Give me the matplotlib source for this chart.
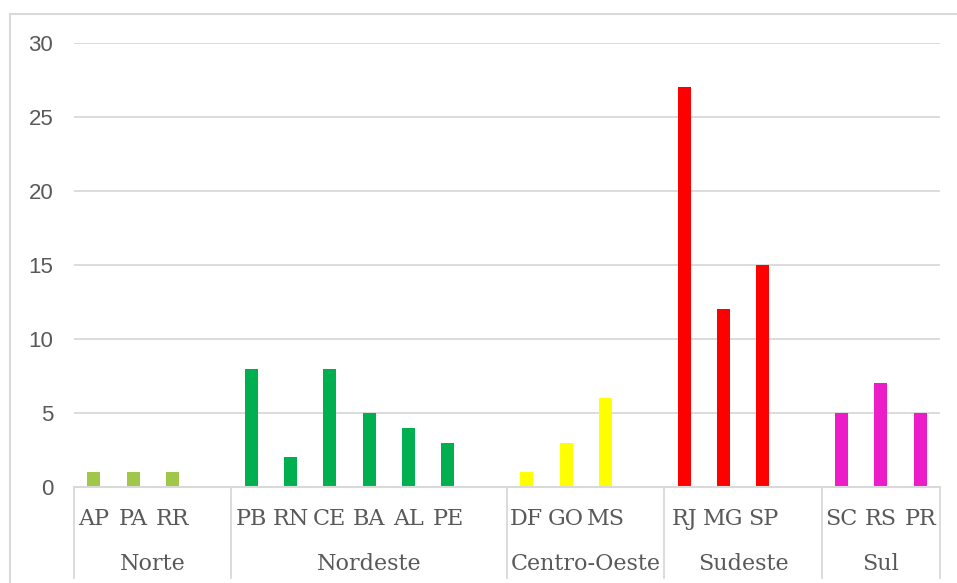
import matplotlib
matplotlib.use("Agg")
import matplotlib.pyplot as plt
from matplotlib.lines import Line2D
from matplotlib.transforms import blended_transform_factory
import numpy as np

# Regions, their states and counts
regions = ["Norte", "Nordeste", "Centro-Oeste", "Sudeste", "Sul"]
norte_states = ["AP", "PA", "RR"]
norte_values = [1, 1, 1]
nordeste_states = ["PB", "RN", "CE", "BA", "AL", "PE"]
nordeste_values = [8, 2, 8, 5, 4, 3]
centro_states = ["DF", "GO", "MS"]
centro_values = [1, 3, 6]
sudeste_states = ["RJ", "MG", "SP"]
sudeste_values = [27, 12, 15]
sul_states = ["SC", "RS", "PR"]
sul_values = [5, 7, 5]
region_colors = ["#A0C64A", "#00B050", "#FFFF00", "#FF0000", "#EC1CC9"]
y_ticks = [0, 5, 10, 15, 20, 25, 30]

groups = [
    (norte_states, norte_values),
    (nordeste_states, nordeste_values),
    (centro_states, centro_values),
    (sudeste_states, sudeste_values),
    (sul_states, sul_values),
]

W, H, DPI = 957, 583, 100
fig = plt.figure(figsize=(W / DPI, H / DPI), dpi=DPI)
fig.patch.set_facecolor("white")

# Plot area in pixel coordinates
left_px, right_px, top_px, bottom_px = 74, 940, 43, 487
ax = fig.add_axes([left_px / W, 1 - bottom_px / H,
                   (right_px - left_px) / W, (bottom_px - top_px) / H])

label_color = "#595959"
grid_color = "#D9D9D9"
serif = ["DejaVu Serif"]

# Lay out slots: each region's states followed by one empty slot (except last)
trans = blended_transform_factory(ax.transData, ax.transAxes)
pos = 0
separators = [-0.5]
for gi, ((states, values), region, color) in enumerate(zip(groups, regions, region_colors)):
    xs = np.arange(pos, pos + len(states))
    ax.bar(xs, values, width=0.33, color=color, zorder=3)
    for x, s in zip(xs, states):
        ax.text(x, -0.0856, s, transform=trans, ha="center", va="baseline",
                fontsize=16, color=label_color, family=serif)
    end = pos + len(states) + (1 if gi < len(groups) - 1 else 0)
    sep = end - 0.5
    separators.append(sep)
    center = (separators[-2] + sep) / 2
    ax.text(center, -0.187, region, transform=trans, ha="center", va="baseline",
            fontsize=16, color=label_color, family=serif)
    pos = end

n_slots = pos
ax.set_xlim(-0.5, n_slots - 0.5)
ax.set_ylim(0, 30)
ax.set_yticks(y_ticks)
ax.set_xticks([])
ax.tick_params(axis="y", length=0, pad=15, labelsize=16, labelcolor=label_color)
for lab in ax.get_yticklabels():
    lab.set_family("Liberation Sans")
ax.grid(axis="y", color=grid_color, linewidth=1.3, zorder=0)
for side in ["left", "right", "top"]:
    ax.spines[side].set_visible(False)
ax.spines["bottom"].set_color(grid_color)
ax.spines["bottom"].set_linewidth(1.5)
ax.spines["bottom"].set_zorder(4)

# Vertical dividers of the category axis
sep_depth = -(578 - bottom_px) / (bottom_px - top_px)
for sep in separators:
    ax.plot([sep, sep], [0, sep_depth], transform=trans, color=grid_color,
            linewidth=1.3, clip_on=False)

# Chart-area border (top and left edges)
bx, by = 9.5 / W, 1 - 14 / H
fig.add_artist(Line2D([bx, bx], [0, by], transform=fig.transFigure,
                      color=grid_color, linewidth=1.5))
fig.add_artist(Line2D([bx, 1], [by, by], transform=fig.transFigure,
                      color=grid_color, linewidth=1.5))

fig.savefig("out.png", dpi=DPI)
